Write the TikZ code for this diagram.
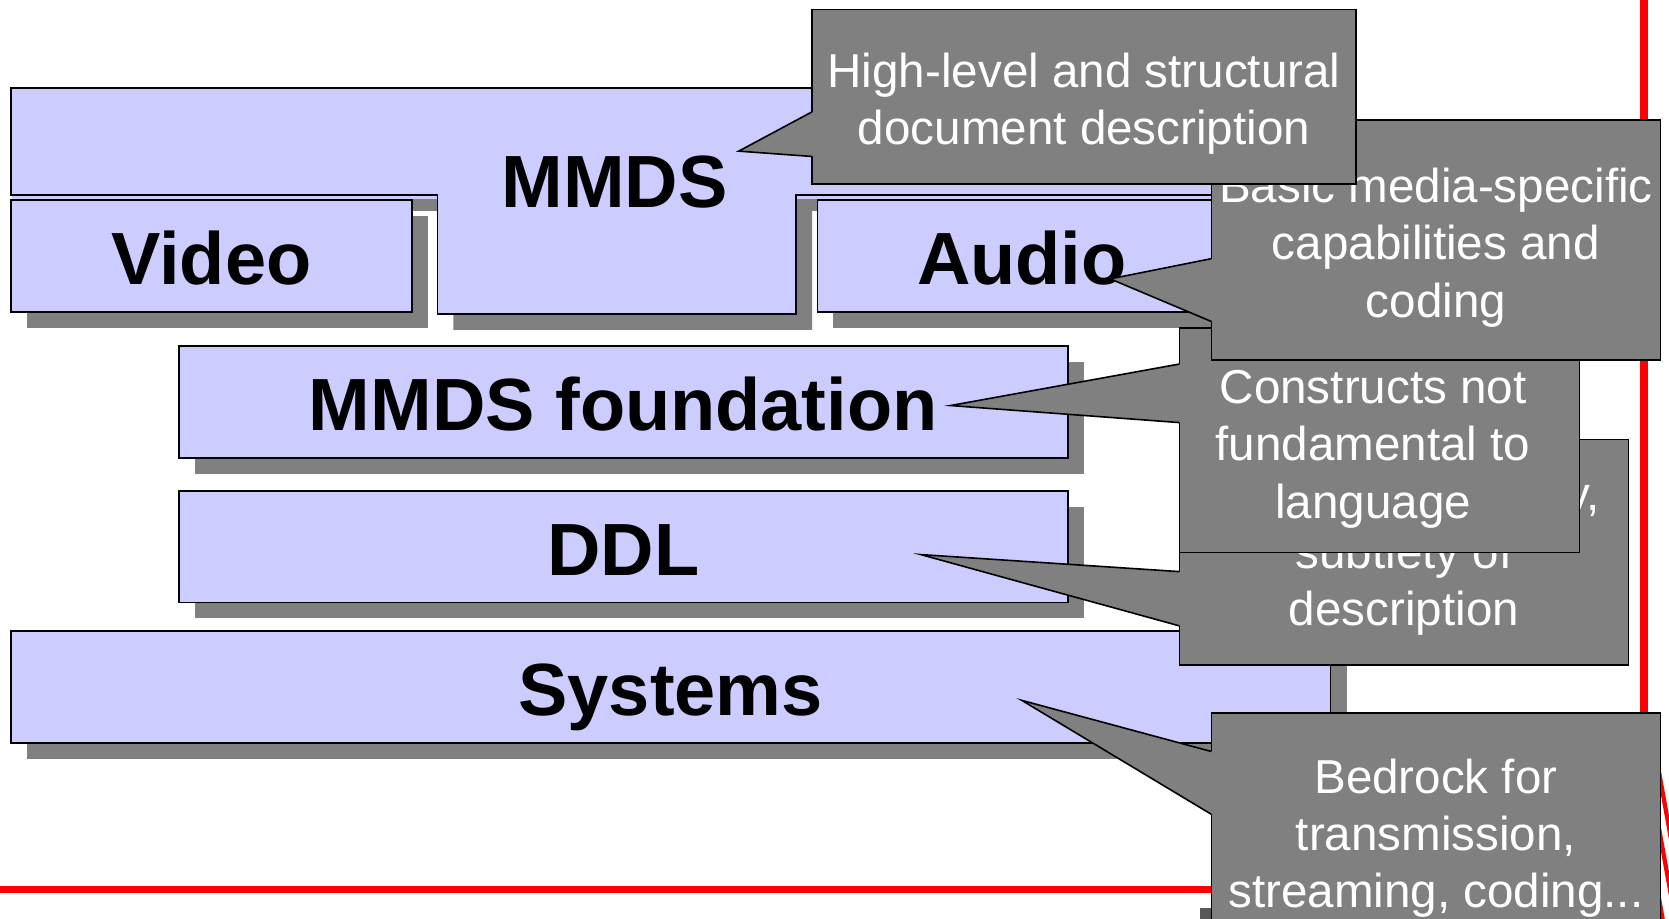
\documentclass[tikz,border=0pt]{standalone}
\usepackage{fontspec}
\setmainfont{Liberation Sans}
\usetikzlibrary{calc,shadows}
\definecolor{layerfill}{HTML}{CCCCFF}
\definecolor{notefill}{HTML}{808080}
\definecolor{rulered}{HTML}{FF0000}

\tikzset{
  layershadow/.style={drop shadow={shadow xshift=15pt, shadow yshift=-15pt, opacity=1, fill=notefill}},
  layerbox/.style={draw=black, line width=1.8pt, fill=layerfill, outer sep=0pt, inner sep=0pt,
    layershadow, font=\fontsize{69.5}{80}\selectfont\bfseries, text height=54pt, text depth=0pt},
  notebox/.style={draw=black, line width=1.5pt, fill=notefill, outer sep=0pt, inner sep=0pt},
  notetext/.style={font=\fontsize{44.7}{54}\selectfont, text=white, align=center, inner sep=0pt},
  wedgeline/.style={draw=black, line width=1.5pt},
  redrule/.style={draw=rulered, line width=7.5pt},
}

% pointer wedge of a callout: #1 callout node, #2 tip, #3/#4 upper/lower y where it meets the left side
\newcommand\calloutwedge[4]{%
  \fill[notefill] (#1.west |- 0,#3) -- (#2) -- (#1.west |- 0,#4)
     -- ($(#1.west |- 0,#4)+(4,0)$) -- ($(#1.west |- 0,#3)+(4,0)$) -- cycle;
  \draw[wedgeline] (#1.west |- 0,#3) -- (#2) -- (#1.west |- 0,#4);}

\begin{document}
\begin{tikzpicture}[x=1pt, y=-1pt]
\path[use as bounding box] (0,0) rectangle (1568,863);
\clip (0,0) rectangle (1568,863);

% red frame lines
\draw[redrule] (1544.7,0) -- (1544.7,863);
\draw[redrule, line width=7pt] (0,835.5) -- (1150,835.5);

% striped emblem edge at the bottom right
\begin{scope}
  \clip (1560.5,700) rectangle (1568,863);
  \foreach \y in {739,792,858}
    \draw[rulered, line width=4pt] (1558,\y-17) -- (1572,\y+61);
\end{scope}

% small dark block at the bottom
\fill[black!65] (1127,853) rectangle (1140,863);

% MMDS layer: wide band with a lower tab
\fill[notefill, shift={(15,15)}] (10,83) -- (1152,83) -- (1152,183) -- (748,183)
   -- (748,295) -- (411,295) -- (411,183) -- (10,183) -- cycle;
\filldraw[fill=layerfill, draw=black, line width=1.8pt] (10,83) -- (1152,83) -- (1152,183) -- (748,183)
   -- (748,295) -- (411,295) -- (411,183) -- (10,183) -- cycle;
\fill[layerfill] (10.9,183.9) rectangle (410.1,187);
\fill[layerfill] (748.9,183.9) rectangle (1152,187);
\node[font=\fontsize{69.5}{80}\selectfont\bfseries, anchor=base, inner sep=0pt] (mmds) at (577.5,195) {MMDS};

% media layers
\node[layerbox, minimum width=377pt, minimum height=105pt] (video) at (198.5,240.5) {Video};
\node[layerbox, minimum width=384pt, minimum height=105pt] (audio) at (960,240.5) {Audio};
\node[layerbox, minimum width=835pt, minimum height=105pt] (found) at (585.5,377.5) {MMDS foundation};
\node[layerbox, minimum width=835pt, minimum height=105pt] (ddl) at (585.5,513.5) {DDL};
\node[layerbox, minimum width=1240pt, minimum height=105pt] (sys) at (630,645.5) {Systems};

% pointer tips
\coordinate (subtle-tip) at (865,521);
\coordinate (constr-tip) at (893,381);
\coordinate (basic-tip) at (1043,262);
\coordinate (hl-tip) at (694,142);
\coordinate (bed-tip) at (960,658);

% callouts
\node[notebox, minimum width=422pt, minimum height=212pt] (subtle) at (1319,519) {};
\calloutwedge{subtle}{subtle-tip}{537}{588}
\node[notetext] (subtle-t) at (1319,523.2) {\strut\hspace*{337pt}y,\\\strut subtlety of\\\strut description};

\node[notebox, minimum width=376pt, minimum height=211pt] (constr) at (1296,413.5) {};
\calloutwedge{constr}{constr-tip}{342}{397}
\node[notetext] (constr-t) at (1290,422.2) {\strut Constructs not\\\strut fundamental to\\\strut language};

\node[notebox, minimum width=422pt, minimum height=225pt] (basic) at (1349,225.5) {};
\calloutwedge{basic}{basic-tip}{243}{302}
\node[notetext] (basic-t) at (1349,233.2) {\strut Basic media-specific\\\strut capabilities and\\\strut coding};

\node[notebox, minimum width=511pt, minimum height=164pt] (hl) at (1018.5,91) {};
\calloutwedge{hl}{hl-tip}{105}{147}
\node[notetext] (hl-t) at (1018.5,98.2) {\strut High-level and structural\\\strut document description};

\node[notebox, minimum width=422pt, minimum height=235pt] (bed) at (1349,787.5) {};
\calloutwedge{bed}{bed-tip}{706}{765}
\node[notetext] (bed-t) at (1349,788.2) {\strut Bedrock for\\\strut transmission,\\\strut streaming, coding...};
\end{tikzpicture}
\end{document}
